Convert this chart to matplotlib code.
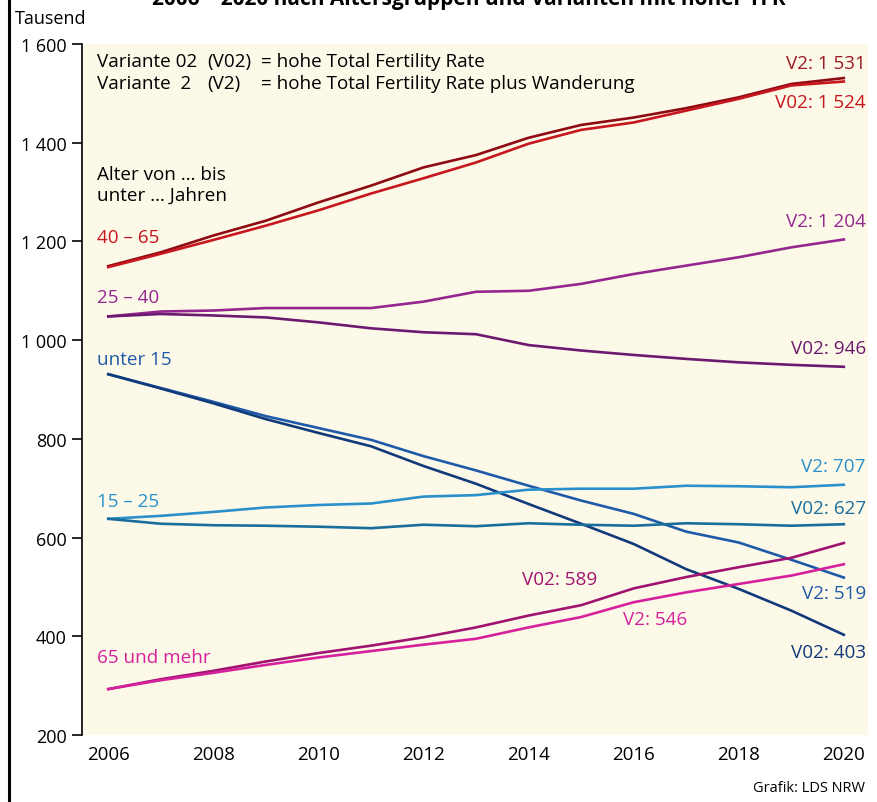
import numpy as np
import matplotlib
matplotlib.use("Agg")
import matplotlib.pyplot as plt
from matplotlib.lines import Line2D

plt.rcParams['font.family'] = ['Open Sans', 'DejaVu Sans']

# Bevoelkerung in Tausend, 2006 - 2020
years = np.arange(2006, 2021)

age_40_65_v2 = [1150, 1178, 1212, 1242, 1279, 1313, 1350, 1375, 1410, 1436, 1451, 1470, 1492, 1519, 1531]
age_40_65_v02 = [1148, 1175, 1203, 1232, 1263, 1297, 1328, 1360, 1398, 1426, 1441, 1465, 1489, 1516, 1524]
age_25_40_v2 = [1048, 1058, 1060, 1065, 1065, 1065, 1078, 1098, 1100, 1114, 1134, 1151, 1168, 1188, 1204]
age_25_40_v02 = [1048, 1053, 1050, 1046, 1036, 1024, 1016, 1012, 990, 979, 970, 962, 955, 950, 946]
age_u15_v2 = [931, 903, 875, 846, 822, 798, 765, 736, 705, 675, 648, 612, 590, 555, 519]
age_u15_v02 = [931, 902, 872, 840, 812, 785, 745, 709, 668, 628, 587, 536, 496, 452, 403]
age_15_25_v2 = [638, 644, 652, 661, 666, 669, 683, 686, 697, 699, 699, 705, 704, 702, 707]
age_15_25_v02 = [638, 628, 625, 624, 622, 619, 626, 623, 629, 626, 624, 629, 627, 624, 627]
age_65_v02 = [293, 313, 330, 349, 366, 381, 398, 418, 442, 463, 497, 520, 540, 559, 589]
age_65_v2 = [293, 311, 326, 342, 357, 370, 383, 395, 418, 439, 469, 489, 506, 523, 546]

yticks = [200, 400, 600, 800, 1000, 1200, 1400, 1600]
ytick_labels = ["200", "400", "600", "800", "1 000", "1 200", "1 400", "1 600"]
xticks = list(range(2006, 2021, 2))

fig = plt.figure(figsize=(8.77, 8.03), dpi=100)
ax = fig.add_axes([82/877, 1-736/803, (868-82)/877, (736-45)/803])
ax.set_facecolor('#fdf9e9')

lw = 1.9
ax.plot(years, age_40_65_v2, color='#8e0b12', lw=lw)
ax.plot(years, age_40_65_v02, color='#c8161e', lw=lw)
ax.plot(years, age_25_40_v2, color='#94278f', lw=lw)
ax.plot(years, age_25_40_v02, color='#6c1a70', lw=lw)
ax.plot(years, age_u15_v2, color='#1f5aa8', lw=lw)
ax.plot(years, age_u15_v02, color='#113a7b', lw=lw)
ax.plot(years, age_15_25_v2, color='#2a90cb', lw=lw)
ax.plot(years, age_15_25_v02, color='#1a6e9b', lw=lw)
ax.plot(years, age_65_v02, color='#a0136f', lw=lw)
ax.plot(years, age_65_v2, color='#d6219c', lw=lw)

ax.set_xlim(2005.5, 2020.46)
ax.set_ylim(200, 1600)
for s in ['top', 'right', 'bottom']:
    ax.spines[s].set_visible(False)
ax.spines['left'].set_linewidth(1.2)
ax.set_yticks(yticks)
ax.set_yticklabels(ytick_labels, fontsize=13)
ax.set_xticks(xticks)
ax.set_xticklabels([str(x) for x in xticks], fontsize=13.5)
ax.tick_params(axis='y', direction='out', length=7, width=1.2, pad=4)
ax.tick_params(axis='x', length=0, pad=7)

fs = 13.6
xl = 2005.79
# Legende oben links
ax.text(xl, 1566, "Variante 02", fontsize=fs, va='center')
ax.text(2007.88, 1566, "(V02)", fontsize=fs, va='center')
ax.text(2008.9, 1566, "= hohe Total Fertility Rate", fontsize=fs, va='center')
ax.text(xl, 1521, "Variante  2", fontsize=fs, va='center')
ax.text(2007.88, 1521, "(V2)", fontsize=fs, va='center')
ax.text(2008.9, 1521, "= hohe Total Fertility Rate plus Wanderung", fontsize=fs, va='center')
ax.text(xl, 1337, "Alter von … bis", fontsize=fs, va='center')
ax.text(xl, 1294, "unter … Jahren", fontsize=fs, va='center')

# Altersgruppen links
ax.text(xl, 1209, "40 – 65", color='#c8161e', fontsize=fs, va='center')
ax.text(xl, 1087, "25 – 40", color='#94278f', fontsize=fs, va='center')
ax.text(xl, 962, "unter 15", color='#1f5aa8', fontsize=fs, va='center')
ax.text(xl, 674, "15 – 25", color='#2a90cb', fontsize=fs, va='center')
ax.text(xl, 358, "65 und mehr", color='#d6219c', fontsize=fs, va='center')

# Endwerte rechts
xr = 2020.42
ax.text(xr, 1561, "V2: 1 531", color='#9b1b22', fontsize=fs, ha='right', va='center')
ax.text(xr, 1482, "V02: 1 524", color='#c8161e', fontsize=fs, ha='right', va='center')
ax.text(xr, 1241, "V2: 1 204", color='#94278f', fontsize=fs, ha='right', va='center')
ax.text(xr, 984, "V02: 946", color='#6c1a70', fontsize=fs, ha='right', va='center')
ax.text(xr, 745, "V2: 707", color='#2a90cb', fontsize=fs, ha='right', va='center')
ax.text(xr, 660, "V02: 627", color='#1a6e9b', fontsize=fs, ha='right', va='center')
ax.text(xr, 488, "V2: 519", color='#1f5aa8', fontsize=fs, ha='right', va='center')
ax.text(xr, 368, "V02: 403", color='#113a7b', fontsize=fs, ha='right', va='center')
ax.text(2014.6, 516, "V02: 589", color='#a0136f', fontsize=fs, ha='center', va='center')
ax.text(2016.4, 435, "V2: 546", color='#d6219c', fontsize=fs, ha='center', va='center')

fig.text(15/877, 1-19/803, "Tausend", fontsize=13, va='center')
fig.text(865/877, 1-789/803, "Grafik: LDS NRW", fontsize=10.5, ha='right', va='center')
fig.text(0.535, 1-5/803, "2006 – 2020 nach Altersgruppen und Varianten mit hoher TFR",
         fontsize=15, fontweight='bold', ha='center', va='baseline')

fig.add_artist(Line2D([9/877, 9/877], [0, 1], color='black', lw=2.2, transform=fig.transFigure))

fig.savefig("out.png", dpi=100)
